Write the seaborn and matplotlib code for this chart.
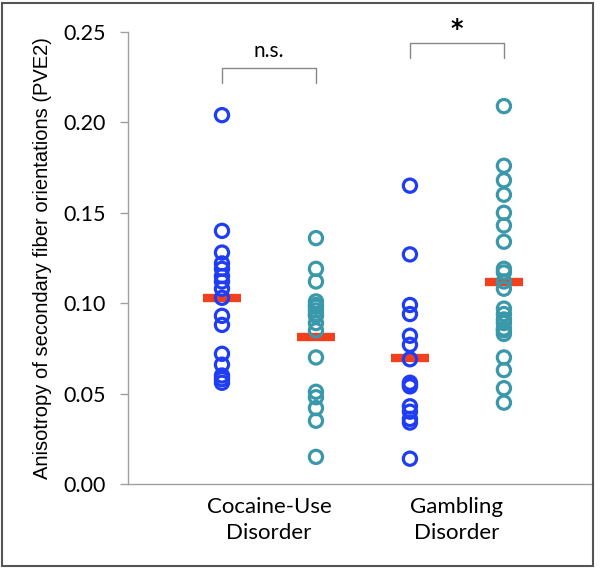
import pandas as pd
import numpy as np
import matplotlib
matplotlib.use("Agg")
import matplotlib.pyplot as plt
import seaborn as sns
from matplotlib.patches import Rectangle

# valores (PVE2)
cocaina_ctrl = [0.204, 0.140, 0.128, 0.122, 0.119, 0.115, 0.112, 0.108, 0.103,
                0.093, 0.088, 0.072, 0.066, 0.060, 0.058, 0.056]
cocaina_pac = [0.136, 0.119, 0.112, 0.101, 0.099, 0.098, 0.096, 0.094, 0.093,
               0.089, 0.085, 0.070, 0.051, 0.048, 0.042, 0.035, 0.015]
juego_ctrl = [0.165, 0.127, 0.099, 0.094, 0.082, 0.077, 0.069, 0.056, 0.055,
              0.054, 0.043, 0.040, 0.036, 0.034, 0.014]
juego_pac = [0.209, 0.176, 0.168, 0.160, 0.150, 0.143, 0.134, 0.119, 0.117,
             0.112, 0.108, 0.097, 0.094, 0.091, 0.089, 0.086, 0.085, 0.083,
             0.070, 0.063, 0.053, 0.045]

columnas = ["CUD ctrl", "CUD", "GD ctrl", "GD"]
series = [cocaina_ctrl, cocaina_pac, juego_ctrl, juego_pac]
tipo = ["control", "paciente", "control", "paciente"]
etiquetas_grupo = ["Cocaine-Use\nDisorder", "Gambling\nDisorder"]
significancia = ["n.s.", "*"]

filas = []
for col, vals, t in zip(columnas, series, tipo):
    for v in vals:
        filas.append({"columna": col, "valor": v, "tipo": t})
df = pd.DataFrame(filas)

AZUL = "#1f3df2"
TEAL = "#3a98ab"
ROJO = "#f2401c"
GRIS = "#a0a0a0"

sns.set_style("white")
fig = plt.figure(figsize=(6.01, 5.73), dpi=100)
ax = fig.add_axes([0.213, 0.1553, 0.774, 0.7889])

# barra roja = media
sns.pointplot(data=df, x="columna", y="valor", order=columnas, estimator="mean",
              errorbar=None, color=ROJO, marker="_", linestyle="none",
              markersize=27, markeredgewidth=6, ax=ax, zorder=2)

sns.stripplot(data=df, x="columna", y="valor", order=columnas, hue="tipo",
              palette={"control": AZUL, "paciente": TEAL}, jitter=False,
              size=9.5, linewidth=2.3, legend=False, ax=ax, zorder=3)
for coll in ax.collections:
    fc = coll.get_facecolors()
    if len(fc):
        coll.set_edgecolors(fc)
        coll.set_facecolors("none")

ax.set_xlim(-1, 3.95)
ax.set_ylim(0, 0.25)
ax.set_yticks(np.arange(0, 0.2501, 0.05))
ax.set_yticklabels([f"{v:.2f}" for v in np.arange(0, 0.2501, 0.05)],
                   fontsize=15.5, family="Lato", color="black")
ax.set_xticks([0.5, 2.5])
ax.set_xticklabels(etiquetas_grupo, fontsize=16, family="Lato", color="black",
                   linespacing=1.4)
ax.tick_params(axis="x", length=0, pad=9)
ax.tick_params(axis="y", length=6, color=GRIS, width=1, pad=10, left=True)
ax.set_xlabel("")
ax.set_ylabel("Anisotropy of secondary fiber orientations (PVE2)",
              fontsize=14.5, family="Liberation Sans", color="black", labelpad=8)

for s in ["top", "right"]:
    ax.spines[s].set_visible(False)
for s in ["left", "bottom"]:
    ax.spines[s].set_color(GRIS)
    ax.spines[s].set_linewidth(1)

# corchetes de significancia
corchetes = [(0, 1, 0.230, 0.222), (2, 3, 0.244, 0.2355)]
for (a, b, top, bot), txt in zip(corchetes, significancia):
    ax.plot([a, a, b, b], [bot, top, top, bot], color="#888888", lw=1,
            clip_on=False)
    if txt == "*":
        ax.text((a + b) / 2, top + 0.0075, txt, ha="center", va="center",
                fontsize=17, fontweight="bold", family="DejaVu Sans",
                color="black", clip_on=False)
    else:
        ax.text((a + b) / 2, top + 0.004, txt, ha="center", va="bottom",
                fontsize=15, family="Lato", color="black", clip_on=False)

fig.patches.append(Rectangle((0.004, 0.012), 0.983, 0.982, transform=fig.transFigure,
                             fill=False, edgecolor="#555555", lw=1.5))

fig.savefig("out.png", dpi=100)
